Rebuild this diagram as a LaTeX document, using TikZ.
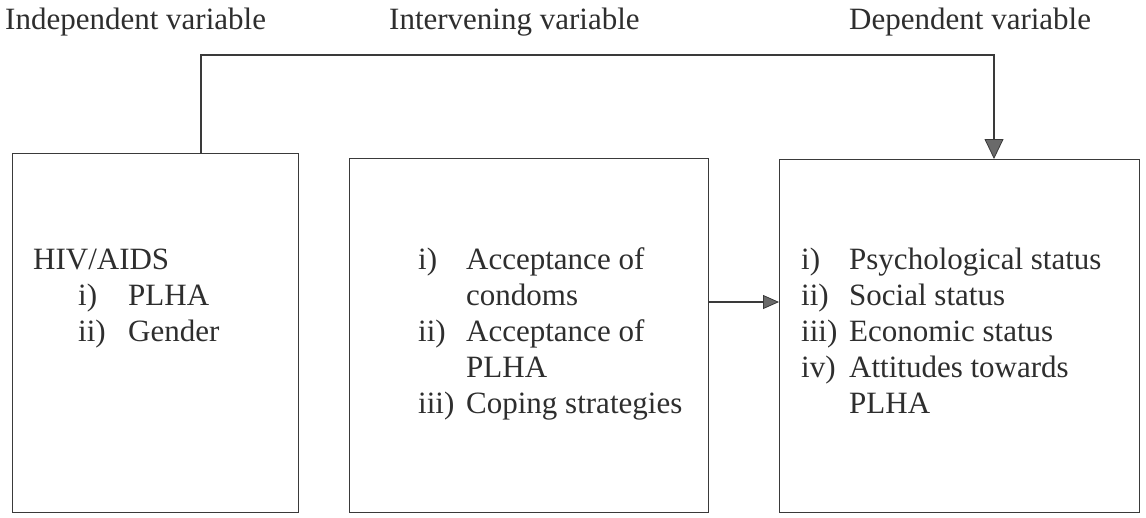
\documentclass[tikz,border=0pt]{standalone}
\usepackage{fontspec}
\setmainfont{Liberation Serif}
\usetikzlibrary{arrows.meta}
\definecolor{linec}{HTML}{3A3A3A}
\definecolor{textc}{HTML}{2E2E2E}
\definecolor{arrowc}{HTML}{6A6A6A}
\newcommand\myitm[2]{\makebox[48pt][l]{#1}#2}
\begin{document}
\begin{tikzpicture}[x=1pt,y=-1pt,
  box/.style={draw=linec, line width=1.4pt, rectangle, inner sep=0pt, anchor=north west},
  lab/.style={anchor=base west, inner sep=0pt, text=textc, font=\fontsize{31}{36}\selectfont},
  head/.style={anchor=base west, inner sep=0pt, text=textc, font=\fontsize{31}{36}\selectfont},
  arrbig/.style={draw=linec, line width=1.4pt, -{Triangle[length=20pt,width=19pt,fill=arrowc,color=linec,line width=0.8pt]}},
  arrsmall/.style={draw=linec, line width=1.4pt, -{Triangle[length=16pt,width=14pt,fill=arrowc,color=linec,line width=0.8pt]}}]
\useasboundingbox (0,0) rectangle (1146,517);
\fill[white] (0,0) rectangle (1146,517);

% headings
\node[head] (h1) at (5,29) {Independent variable};
\node[head] (h2) at (389,29) {Intervening variable};
\node[head] (h3) at (849,29) {Dependent variable};

% boxes
\node[box, minimum width=286, minimum height=359] (b1) at (12,153) {};
\node[box, minimum width=359, minimum height=354] (b2) at (349,158) {};
\node[box, minimum width=360, minimum height=353] (b3) at (779,159) {};

% texts
\node[lab] (t1) at (33,269) {\begin{tabular}[t]{@{}l@{}}
HIV/AIDS\\
\hspace*{45pt}\makebox[50pt][l]{i)}PLHA\\
\hspace*{45pt}\makebox[50pt][l]{ii)}Gender
\end{tabular}};
\node[lab] (t2) at (418,269) {\begin{tabular}[t]{@{}l@{}}
\myitm{i)}{Acceptance of}\\
\myitm{}{condoms}\\
\myitm{ii)}{Acceptance of}\\
\myitm{}{PLHA}\\
\myitm{iii)}{Coping strategies}
\end{tabular}};
\node[lab] (t3) at (801,269) {\begin{tabular}[t]{@{}l@{}}
\myitm{i)}{Psychological status}\\
\myitm{ii)}{Social status}\\
\myitm{iii)}{Economic status}\\
\myitm{iv)}{Attitudes towards}\\
\myitm{}{PLHA}
\end{tabular}};

% connectors
\coordinate (c1) at (201,55);
\coordinate (c2) at (994,55);
\draw[arrbig] (b1.north -| c1) -- (c1) -- (c2) -- (c2 |- b3.north);
\coordinate (hm) at (744,302);
\draw[arrsmall] (hm -| b2.east) -- (hm -| b3.west);
\end{tikzpicture}
\end{document}
